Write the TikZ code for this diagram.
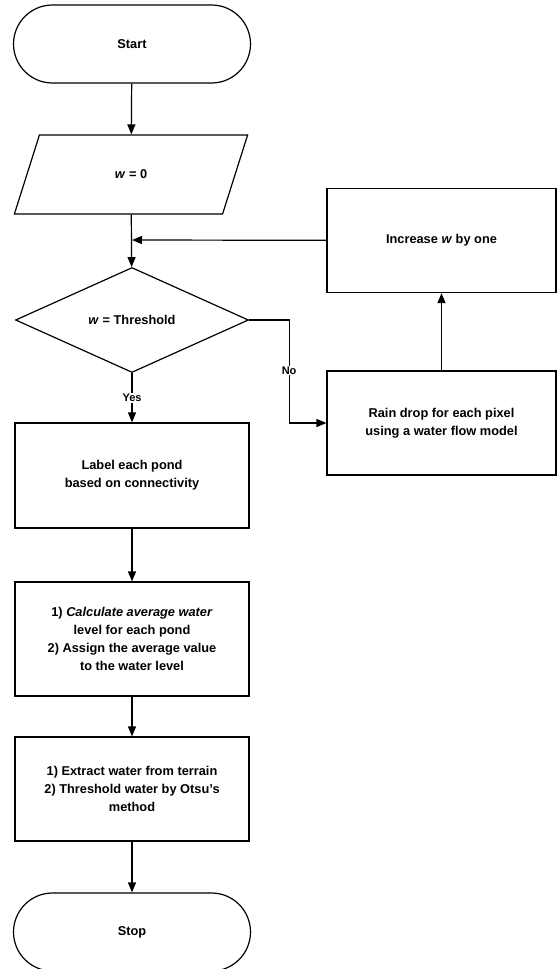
\documentclass[tikz,border=0pt]{standalone}
\usepackage{fontspec}
\setmainfont{Liberation Sans}
\usetikzlibrary{shapes.geometric,shapes.misc,arrows.meta}

\begin{document}
\begin{tikzpicture}[x=1pt,y=1pt,line width=1.2pt,
    font=\fontsize{12.8}{18}\selectfont\bfseries,
    >={Triangle[length=10pt,width=8pt]},
    terminal/.style={draw,rounded rectangle,minimum width=237,minimum height=78,inner sep=0},
    io/.style={draw,trapezium,trapezium left angle=64,trapezium right angle=116,
        trapezium stretches=true,minimum width=234,minimum height=79,inner sep=0},
    decision/.style={draw,diamond,aspect=2.2,minimum width=233,minimum height=105,inner sep=0},
    process/.style={draw,rectangle,align=center,minimum width=234,inner sep=0},
    sidebox/.style={draw,rectangle,align=center,minimum width=229,minimum height=104,inner sep=0}]
    \useasboundingbox (0,0) rectangle (558,-969);

    \node[terminal] (start) at (132,-44) {Start};
    \node[io] (init) at (131,-174.5) {\textit{w} = 0};
    \coordinate (join) at (132,-240);
    \node[decision] (dec) at (132,-320) {\textit{w} = Threshold};

    \node[sidebox] (inc) at (441.5,-240.5) {Increase \textit{w} by one};
    \node[sidebox] (rain) at (441.5,-423) {Rain drop for each pixel\\using a water flow model};

    \node[process,minimum height=105] (label) at (132,-475.5) {Label each pond\\based on connectivity};
    \node[process,minimum height=114] (calc) at (132,-639) {1) \textit{Calculate average water}\\level for each pond\\2) Assign the average value\\to the water level};
    \node[process,minimum height=104] (extract) at (132,-789) {1) Extract water from terrain\\2) Threshold water by Otsu's\\method};
    \node[terminal] (stop) at (132,-932) {Stop};

    \draw[->] (start) -- (init);
    \draw[->] (init) -- (dec);
    \draw[->] (inc) -- (join);
    \draw[->] (dec.east) -- ++(40,0) |- node[pos=0.245,fill=white,inner sep=1pt,font=\fontsize{11}{13}\selectfont\bfseries] {No} (rain.west);
    \draw[->] (rain) -- (inc);
    \draw[->] (dec) -- node[midway,fill=white,inner sep=1pt,font=\fontsize{11}{13}\selectfont\bfseries] {Yes} (label);
    \draw[->] (label) -- (calc);
    \draw[->] (calc) -- (extract);
    \draw[->] (extract) -- (stop);
\end{tikzpicture}
\end{document}
